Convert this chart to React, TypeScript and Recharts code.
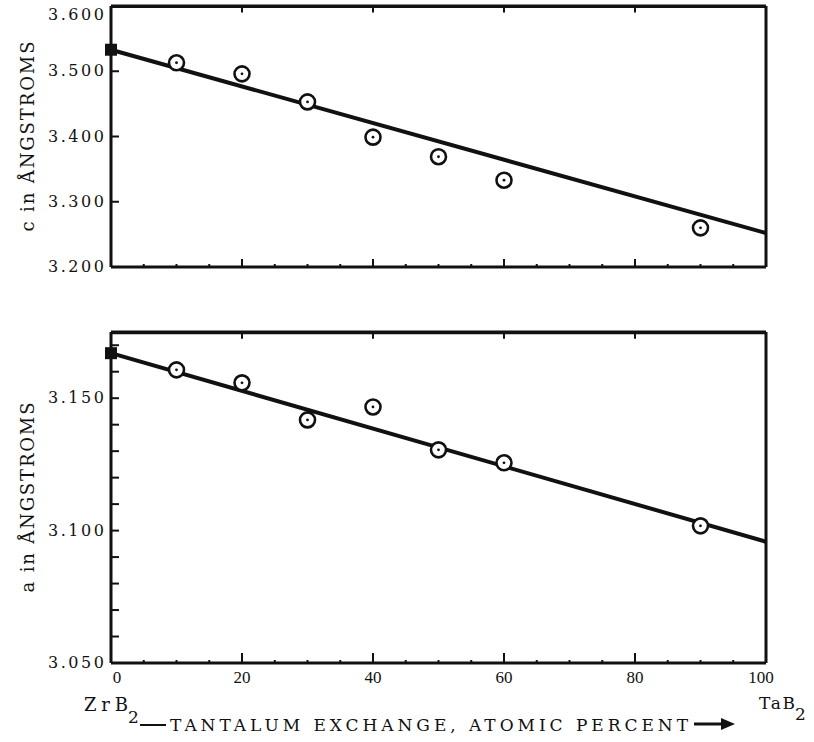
import React from 'react'
import * as Recharts from 'recharts'
import {
  ScatterChart,
  Scatter,
  XAxis,
  YAxis,
} from 'recharts'

// tantalum exchange, atomic percent
const composition = [10, 20, 30, 40, 50, 60, 90]
const zrb2Composition = [0]
const fitComposition = [0, 100]

// c parameter, angstroms
const cValues = [3.513, 3.496, 3.453, 3.399, 3.369, 3.333, 3.260]
const cZrB2 = [3.533]
const cFit = [3.533, 3.252]

// a parameter, angstroms
const aValues = [3.1607, 3.1558, 3.1418, 3.1467, 3.1305, 3.1256, 3.1018]
const aZrB2 = [3.167]
const aFit = [3.167, 3.0958]

const xTicks = [0, 5, 10, 15, 20, 25, 30, 35, 40, 45, 50, 55, 60, 65, 70, 75, 80, 85, 90, 95, 100]
const xLabelTicks = [0, 20, 40, 60, 80, 100]
const xTopTicks = [20, 40, 60, 80]
const frameX = [0, 100]

const cTicks = [3.2, 3.3, 3.4, 3.5, 3.6]
const cLabelTicks = [3.2, 3.3, 3.4, 3.5, 3.6]
const cRightTicks = [3.3, 3.4, 3.5]

const aTicks = [3.05, 3.06, 3.07, 3.08, 3.09, 3.1, 3.11, 3.12, 3.13, 3.14, 3.15, 3.16, 3.17]
const aLabelTicks = [3.05, 3.1, 3.15]
const aRightTicks = [3.06, 3.07, 3.08, 3.09, 3.1, 3.11, 3.12, 3.13, 3.14, 3.15, 3.16, 3.17]

const zip = (xs: number[], ys: number[]) => xs.map((x, i) => ({ x, y: ys[i] }))

const INK = '#111'
const SERIF = '"DejaVu Serif", serif'

const usePlotArea: any = (Recharts as any).usePlotArea

const Ringed = ({ cx, cy }: any) => (
  <g>
    <circle cx={cx} cy={cy} r={7.5} fill="#fff" stroke={INK} strokeWidth={2.6} />
    <circle cx={cx} cy={cy} r={1.4} fill={INK} />
  </g>
)

const Square = ({ cx, cy }: any) => (
  <rect x={cx - 6} y={cy - 6} width={12} height={12} fill={INK} />
)

const NoDot = () => <g />

// inward tick hanging from the top frame
const HangTick = ({ cx, cy }: any) => (
  <line x1={cx} x2={cx} y1={cy} y2={cy + 6} stroke={INK} strokeWidth={2} />
)

// top edge of the frame
const TopFrame = () => {
  const area = usePlotArea ? usePlotArea() : null
  if (!area) return null
  const { x, y, width } = area
  return (
    <g>
      <line x1={x} x2={x + width} y1={y} y2={y} stroke={INK} strokeWidth={3} />
      {xTopTicks.map((t) => {
        const tx = x + (width * t) / 100
        return <line key={t} x1={tx} x2={tx} y1={y} y2={y + 6} stroke={INK} strokeWidth={2} />
      })}
    </g>
  )
}

const makeYTick = (labels: number[], len: number) => ({ x, y, payload }: any) => {
  const v = payload.value
  const hasLabel = labels.some((l) => Math.abs(l - v) < 1e-6)
  const isTop = v > 3.55
  return (
    <g>
      {!isTop && v !== labels[0] && (
        <line x1={x} x2={x + len} y1={y} y2={y} stroke={INK} strokeWidth={2} />
      )}
      {hasLabel && (
        <text x={x - 7} y={y + (isTop ? 9 : 0)} dy={5} textAnchor="end" fontFamily={SERIF}
          fontSize={16} fill={INK} textLength={56} lengthAdjust="spacing">
          {v.toFixed(3)}
        </text>
      )}
    </g>
  )
}

const makeRightTick = (len: number) => ({ x, y }: any) => (
  <line x1={x} x2={x - len} y1={y} y2={y} stroke={INK} strokeWidth={2} />
)

const makeXTick = (showLabels: boolean, major: number) => ({ x, y, payload }: any) => {
  const v = payload.value
  const isMajor = xLabelTicks.includes(v)
  const len = isMajor ? major : 3
  const shift = v === 0 ? 6 : v === 100 ? -5 : 0
  return (
    <g>
      {v !== 0 && v !== 100 && (
        <line x1={x} x2={x} y1={y} y2={y - len} stroke={INK} strokeWidth={2} />
      )}
      {showLabels && isMajor && (
        <text x={x + shift} y={y + 20} textAnchor="middle" fontFamily='"Liberation Serif", serif'
          fontSize={17} fill={INK}>
          {v}
        </text>
      )}
    </g>
  )
}

const AxisTitle = (text: string) => ({ viewBox }: any) => {
  const cy = viewBox.y + viewBox.height / 2
  return (
    <text x={28} y={cy} transform={`rotate(-90 28 ${cy})`} dy={6} textAnchor="middle"
      fontFamily={SERIF} fontSize={18} fill={INK} textLength={190} lengthAdjust="spacing">
      {text}
    </text>
  )
}

const XTitle = ({ viewBox }: any) => {
  const y0 = viewBox.y
  return (
    <g fill={INK} fontFamily={SERIF}>
      <text x={84} y={y0 + 48} fontSize={18} textLength={44} lengthAdjust="spacing">ZrB</text>
      <text x={128} y={y0 + 60} fontSize={17}>2</text>
      <line x1={140} x2={166} y1={y0 + 62} y2={y0 + 62} stroke={INK} strokeWidth={2} />
      <text x={170} y={y0 + 68} fontSize={17} textLength={518} lengthAdjust="spacing">
        TANTALUM EXCHANGE, ATOMIC PERCENT
      </text>
      <line x1={694} x2={724} y1={y0 + 61} y2={y0 + 61} stroke={INK} strokeWidth={3} />
      <path d={`M721 ${y0 + 55} L735 ${y0 + 61} L721 ${y0 + 67} Z`} fill={INK} />
      <text x={759} y={y0 + 46} fontSize={17} textLength={36} lengthAdjust="spacing">TaB</text>
      <text x={795} y={y0 + 57} fontSize={17}>2</text>
    </g>
  )
}

type PanelProps = {
  top: number
  height: number
  marginTop: number
  xAxisHeight: number
  domain: [number, number]
  yTicks: number[]
  yLabels: number[]
  rightTicks: number[]
  values: number[]
  zrb2: number[]
  fit: number[]
  title: string
  bottomPanel: boolean
}

function Panel(p: PanelProps) {
  const frame = { stroke: INK, strokeWidth: 3 }
  const [lo, hi] = p.domain
  // a hair below the top so the points stay inside the axis range
  const edge = hi - (hi - lo) * 0.002
  const topEdge = frameX.map((x) => ({ x, y: edge }))
  const topTicks = xTopTicks.map((x) => ({ x, y: edge }))
  return (
    <div style={{ position: 'absolute', left: 0, top: p.top, width: 814, height: p.height }}>
      <ScatterChart width={814} height={p.height}
        margin={{ top: p.marginTop, right: 47, bottom: 0, left: 0 }}>
        <XAxis xAxisId="b" dataKey="x" type="number" domain={[0, 100]} ticks={xTicks}
          interval={0} height={p.xAxisHeight} axisLine={frame} tickSize={0} tickMargin={0}
          tickLine={false} tick={makeXTick(p.bottomPanel, p.bottomPanel ? 10 : 8)}
          label={p.bottomPanel ? <XTitle /> : undefined} />
        <YAxis yAxisId="l" dataKey="y" type="number" domain={p.domain} ticks={p.yTicks}
          interval={0} width={111} axisLine={frame} tickLine={false} tickSize={0} tickMargin={0}
          tick={makeYTick(p.yLabels, 8)} label={AxisTitle(p.title)} />
        <YAxis yAxisId="r" orientation="right" dataKey="y" type="number" domain={p.domain}
          ticks={p.rightTicks} interval={0} width={1} axisLine={frame} tickSize={0} tickMargin={0}
          tickLine={false} tick={makeRightTick(8)} />
        <TopFrame />
        <Scatter xAxisId="b" yAxisId="l" data={topEdge} shape={<NoDot />}
          line={{ stroke: INK, strokeWidth: 3 }} isAnimationActive={false} />
        <Scatter xAxisId="b" yAxisId="l" data={topTicks} shape={<HangTick />}
          isAnimationActive={false} />
        <Scatter xAxisId="b" yAxisId="l" data={zip(fitComposition, p.fit)} shape={<NoDot />}
          line={{ stroke: INK, strokeWidth: 4 }} isAnimationActive={false} />
        <Scatter xAxisId="b" yAxisId="l" data={zip(composition, p.values)} shape={<Ringed />}
          isAnimationActive={false} />
        <Scatter xAxisId="b" yAxisId="l" data={zip(zrb2Composition, p.zrb2)} shape={<Square />}
          isAnimationActive={false} />
      </ScatterChart>
    </div>
  )
}

export default function App() {
  return (
    <div style={{ position: 'absolute', left: 0, top: 0, width: 814, height: 742, background: '#fff' }}>
      <Panel top={0} height={300} marginTop={6} xAxisHeight={33} domain={[3.2, 3.6]}
        yTicks={cTicks} yLabels={cLabelTicks} rightTicks={cRightTicks}
        values={cValues} zrb2={cZrB2} fit={cFit} title="c in ÅNGSTROMS" bottomPanel={false} />
      <Panel top={300} height={442} marginTop={32} xAxisHeight={79} domain={[3.05, 3.175]}
        yTicks={aTicks} yLabels={aLabelTicks} rightTicks={aRightTicks}
        values={aValues} zrb2={aZrB2} fit={aFit} title="a in ÅNGSTROMS" bottomPanel={true} />
    </div>
  )
}
